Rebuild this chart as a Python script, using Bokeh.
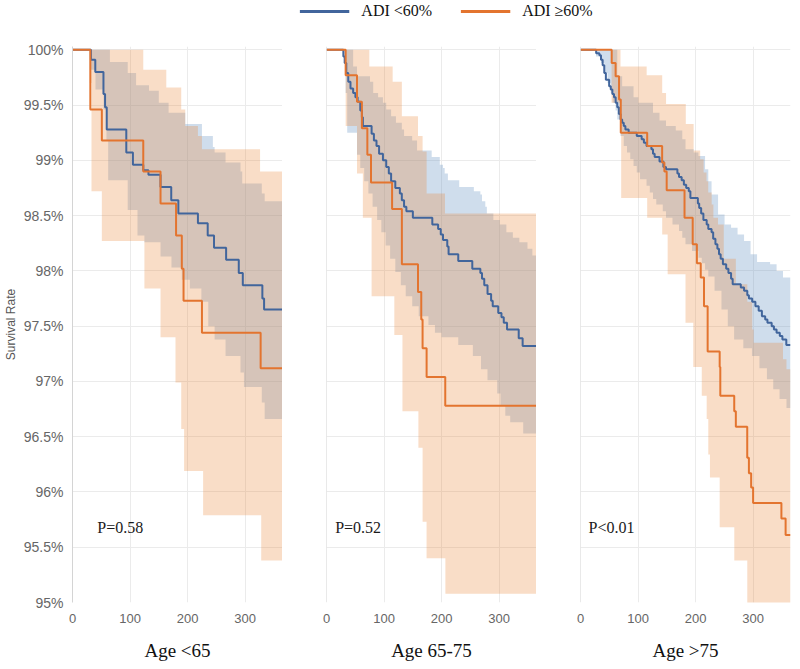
import numpy as np
from bokeh.plotting import figure
from bokeh.models import Range1d, FixedTicker, Span, Legend, LegendItem
from bokeh.layouts import column, row
from bokeh.core.properties import value
from bokeh.embed import file_html
from bokeh.resources import INLINE

# ---------------- data ----------------
X_MAX = 365
x_ticks = [0, 100, 200, 300]
y_ticks = [95, 95.5, 96, 96.5, 97, 97.5, 98, 98.5, 99, 99.5, 100]
y_tick_labels = ["95%", "95.5%", "96%", "96.5%", "97%", "97.5%", "98%", "98.5%", "99%", "99.5%", "100%"]

series_names = ["ADI <60%", "ADI \u226560%"]
panel_titles = ["Age <65", "Age 65-75", "Age >75"]
p_labels = ["P=0.58", "P=0.52", "P<0.01"]
p_label_x = [43, 15, 14]
p_label_y = [95.68, 95.68, 95.68]

# ---- Panel 1 (Age <65) ----
p1_blue_t = [32, 39.6, 53.8, 56.6, 59.5, 93.5, 105, 123, 132, 153, 171.6, 184, 218, 235, 246, 267, 289, 296, 330, 333]
p1_blue_s = [99.91, 99.80, 99.60, 99.48, 99.28, 99.07, 98.96, 98.91, 98.87, 98.76, 98.64, 98.52, 98.43, 98.32, 98.21, 98.10, 97.98, 97.87, 97.75, 97.65]
p1_orng_t = [31, 51, 123, 153, 180, 190, 193, 225, 327]
p1_orng_s = [99.46, 99.18, 98.90, 98.61, 98.32, 98.02, 97.73, 97.44, 97.12]
p1_bup_t = [65, 96, 110.5, 133, 150, 167, 196, 225, 244, 247, 266, 292, 295, 329, 334]
p1_bup_s = [99.89, 99.79, 99.68, 99.63, 99.52, 99.43, 99.33, 99.22, 99.12, 99.07, 98.98, 98.90, 98.79, 98.70, 98.63]
p1_blo_t = [30, 40, 54, 59, 62, 96, 113, 125, 153, 172, 190, 204, 224, 236, 247, 266, 292, 298, 329, 334]
p1_blo_s = [99.82, 99.64, 99.46, 99.18, 98.82, 98.55, 98.32, 98.26, 98.13, 98.03, 97.92, 97.84, 97.72, 97.50, 97.38, 97.23, 97.08, 96.95, 96.81, 96.66]
p1_oup_t = [123, 163, 189, 196, 218, 225, 326]
p1_oup_s = [99.82, 99.66, 99.46, 99.31, 99.22, 99.10, 98.90]
p1_olo_t = [30, 33, 51, 125, 153, 179, 189, 194, 227, 328]
p1_olo_s = [99.70, 98.72, 98.27, 97.84, 97.40, 96.99, 96.57, 96.19, 95.79, 95.38]

# ---- Panel 2 (Age 65-75) ----
p2_blue_t = [29.3, 31.6, 34.4, 37.8, 41.7, 46.3, 50.2, 54.1, 58.7, 61.5,
             63.2, 78.4, 82.4, 86.9, 91.4, 98.1, 103.8, 108.3, 112.3, 119.6,
             127.5, 130.9, 134.8, 138.8, 150.1, 183.9, 194, 198.6, 202.5, 209.9,
             212.2, 229, 253.4, 267.4, 270.3, 274.2, 279.9, 286.1, 288.9, 298.5,
             304.1, 308.1, 313.8, 334.1, 340.9]
p2_blue_s = [99.94, 99.88, 99.79, 99.71, 99.65, 99.61, 99.57, 99.53, 99.45, 99.39,
             99.31, 99.24, 99.18, 99.13, 99.06, 99.00, 98.94, 98.88, 98.81, 98.75,
             98.70, 98.64, 98.58, 98.54, 98.48, 98.42, 98.38, 98.33, 98.28, 98.22,
             98.15, 98.09, 98.02, 97.98, 97.93, 97.87, 97.79, 97.73, 97.68, 97.62,
             97.58, 97.53, 97.47, 97.39, 97.32]
p2_orng_t = [33.3, 53, 61.5, 71, 77.3, 114, 131, 159, 164.7, 167, 174, 206.4]
p2_orng_s = [99.77, 99.53, 99.29, 99.05, 98.80, 98.56, 98.06, 97.81, 97.56, 97.30, 97.04, 96.78]
p2_bup_t = [46.3, 53, 75.6, 81.2, 89.7, 98.1, 103.8, 112.3, 120.7, 130.9,
            134.8, 148.9, 157.4, 182.8, 196.9, 202.5, 205.4, 211, 230.7, 256.1,
            267.4, 270.3, 276, 278.7, 290, 301.3, 312.6, 323.9, 335.2, 349.3, 357.8]
p2_bup_s = [99.85, 99.76, 99.71, 99.61, 99.57, 99.52, 99.46, 99.40, 99.34, 99.28,
            99.22, 99.18, 99.09, 99.03, 98.96, 98.93, 98.88, 98.82, 98.76, 98.72,
            98.69, 98.63, 98.58, 98.52, 98.46, 98.42, 98.35, 98.30, 98.26, 98.20, 98.14]
p2_blo_t = [30.5, 33.3, 36, 53, 58.7, 65.5, 72.8, 80.1, 88, 95.3,
            102.7, 110.6, 119.6, 129.2, 137.7, 149, 160.3, 177.2, 188.5, 199.8,
            229, 254.4, 268.5, 279.8, 296.7, 302.4, 310.8, 319.3, 341.9]
p2_blo_s = [99.88, 99.61, 99.25, 99.05, 98.93, 98.81, 98.70, 98.58, 98.46, 98.35,
            98.23, 98.11, 97.99, 97.87, 97.77, 97.68, 97.59, 97.51, 97.44, 97.40,
            97.33, 97.23, 97.11, 97.01, 96.89, 96.78, 96.69, 96.63, 96.53]
p2_oup_t = [74.4, 115, 131, 159, 167, 174, 206]
p2_oup_s = [99.85, 99.71, 99.40, 99.22, 99.08, 98.70, 98.52]
p2_olo_t = [33.3, 53, 63.2, 78.4, 117.9, 132, 159.7, 167, 173.9, 206.6]
p2_olo_s = [99.31, 98.88, 98.48, 97.77, 97.42, 96.73, 96.40, 95.73, 95.40, 95.08]

# ---- Panel 3 (Age >75) ----
p3_blue_t = [27.2, 32.8, 35.6, 38.5, 41.3, 44.1, 49.8, 52.6, 55.4, 58.2,
             61.1, 63.9, 66.7, 69.6, 72.4, 75.2, 78.0, 83.7, 97.8, 106.3,
             110.2, 114.8, 123.2, 126.0, 128.9, 137.3, 144.1, 148.6, 168.4, 171.2,
             175.8, 179.7, 183.7, 188.2, 191.0, 204.0, 206.3, 209.7, 213.6, 219.3,
             222.1, 227.8, 230.6, 234.5, 237.9, 240.7, 243.6, 247.5, 253.2, 257.1,
             261.7, 264.5, 278.6, 284.3, 289.9, 292.7, 298.4, 304.0, 309.7, 315.3,
             321.0, 324.9, 332.3, 336.2, 340.8, 346.4, 350.9, 357.7]
p3_blue_s = [99.97, 99.95, 99.91, 99.86, 99.79, 99.73, 99.67, 99.64, 99.60, 99.57,
             99.52, 99.48, 99.42, 99.37, 99.34, 99.31, 99.28, 99.25, 99.22, 99.19,
             99.16, 99.13, 99.10, 99.06, 99.03, 98.99, 98.94, 98.92, 98.88, 98.85,
             98.82, 98.78, 98.75, 98.72, 98.66, 98.61, 98.57, 98.52, 98.46, 98.42,
             98.38, 98.35, 98.29, 98.24, 98.20, 98.15, 98.11, 98.06, 98.02, 97.98,
             97.93, 97.88, 97.85, 97.82, 97.78, 97.75, 97.72, 97.68, 97.64, 97.59,
             97.56, 97.53, 97.50, 97.47, 97.44, 97.41, 97.38, 97.33]
p3_orng_t = [54.2, 61, 67, 70, 115.9, 141.9, 145.8, 149.8, 180.8, 195, 202.3, 209,
             214.7, 221, 241.9, 243, 267.2, 270, 289.8, 292.7, 296.6, 300, 349.2, 356.5]
p3_orng_s = [99.88, 99.76, 99.55, 99.25, 99.13, 98.98, 98.90, 98.73, 98.48, 98.24, 98.07, 97.94,
             97.68, 97.27, 97.13, 96.87, 96.73, 96.59, 96.31, 96.17, 96.04, 95.90, 95.76, 95.61]
p3_bup_t = [63.9, 72.4, 92.2, 100.6, 126, 137.3, 148.6, 165.6, 176.9, 182.5,
            196.7, 205, 216.5, 222.1, 227.8, 239.1, 250.4, 261.7, 273, 284.3,
            295.6, 306.9, 329.5, 340.8, 352]
p3_bup_s = [99.76, 99.67, 99.57, 99.52, 99.43, 99.36, 99.31, 99.27, 99.19, 99.10,
            99.07, 99.04, 98.92, 98.81, 98.69, 98.51, 98.42, 98.39, 98.33, 98.27,
            98.15, 98.08, 98.06, 98.00, 97.94]
p3_blo_t = [27, 35.6, 41.3, 47, 52.6, 56, 61, 63.9, 69.5, 75.2,
            80.8, 86.5, 92.2, 97.8, 103.5, 114.8, 120.4, 126, 131.7, 143,
            148.6, 159.9, 171.2, 176.9, 182.5, 193.8, 205.1, 210.8, 216.5, 222.1,
            233, 245, 256, 267, 283, 298, 311, 324, 335, 346, 358]
p3_blo_s = [99.94, 99.88, 99.79, 99.70, 99.61, 99.52, 99.45, 99.37, 99.22, 99.13,
            99.07, 99.01, 98.95, 98.89, 98.83, 98.77, 98.71, 98.65, 98.60, 98.54,
            98.48, 98.42, 98.36, 98.30, 98.24, 98.18, 98.12, 98.07, 98.01, 97.95,
            97.82, 97.65, 97.50, 97.38, 97.30, 97.23, 97.12, 97.02, 96.93, 96.84, 96.76]
p3_oup_t = [69.5, 115, 142, 148.7, 183, 196.6, 208, 214, 219, 222, 228, 231, 239, 249, 270, 290, 298.5, 301, 352, 358]
p3_oup_s = [99.85, 99.77, 99.61, 99.51, 99.33, 99.09, 99.01, 98.89, 98.81, 98.71, 98.60, 98.48, 98.42, 98.11, 97.88, 97.72, 97.47, 97.35, 97.20, 97.11]
p3_olo_t = [54, 70.7, 115.9, 142, 151.5, 182.5, 196, 210.8, 219.3, 222.1, 225, 241.9, 267.3, 289.9]
p3_olo_s = [99.52, 98.66, 98.48, 98.33, 97.97, 97.53, 97.13, 96.87, 96.66, 96.34, 96.13, 95.68, 95.38, 94.90]

panels = [
    dict(blue=(p1_blue_t, p1_blue_s), orng=(p1_orng_t, p1_orng_s),
         bup=(p1_bup_t, p1_bup_s), blo=(p1_blo_t, p1_blo_s),
         oup=(p1_oup_t, p1_oup_s), olo=(p1_olo_t, p1_olo_s)),
    dict(blue=(p2_blue_t, p2_blue_s), orng=(p2_orng_t, p2_orng_s),
         bup=(p2_bup_t, p2_bup_s), blo=(p2_blo_t, p2_blo_s),
         oup=(p2_oup_t, p2_oup_s), olo=(p2_olo_t, p2_olo_s)),
    dict(blue=(p3_blue_t, p3_blue_s), orng=(p3_orng_t, p3_orng_s),
         bup=(p3_bup_t, p3_bup_s), blo=(p3_blo_t, p3_blo_s),
         oup=(p3_oup_t, p3_oup_s), olo=(p3_olo_t, p3_olo_s)),
]

# ---------------- styling ----------------
BLUE = "#41659c"
ORANGE = "#e3742f"
BLUE_FILL = "#6994c3"
ORANGE_FILL = "#e7832f"
GRID = "#ebebeb"
TICK_FONT = "Liberation Sans"
SERIF = "Liberation Serif"


def step_xy(ts, vs):
    xs = [0.0] + list(ts) + [X_MAX]
    ys = [100.0] + list(vs) + [vs[-1]]
    return xs, ys


def step_eval(ts, vs, grid):
    ts = np.asarray(ts, float)
    vs = np.asarray(vs, float)
    idx = np.searchsorted(ts, grid, side="right") - 1
    return np.where(idx >= 0, vs[np.clip(idx, 0, None)], 100.0)


def band(lo, up):
    grid = np.array(sorted(set([0.0, float(X_MAX)] + list(lo[0]) + list(up[0]))))
    return grid, step_eval(*lo, grid), step_eval(*up, grid)


figs = []
for i, pdat in enumerate(panels):
    first = (i == 0)
    f = figure(frame_width=210, frame_height=556,
               x_range=Range1d(0, X_MAX), y_range=Range1d(95, 100.03),
               toolbar_location=None, output_backend="svg",
               y_axis_location="left" if first else None,
               min_border_top=24, min_border_right=(2 if i == 2 else 0),
               min_border_left=(52 if first else 44), min_border_bottom=10)
    f.outline_line_color = None
    f.background_fill_color = "white"

    f.xgrid.ticker = FixedTicker(ticks=x_ticks)
    f.ygrid.ticker = FixedTicker(ticks=y_ticks)
    f.xgrid.grid_line_color = GRID
    f.ygrid.grid_line_color = GRID

    xa = f.xaxis[0]
    xa.ticker = FixedTicker(ticks=x_ticks)
    xa.axis_line_color = None
    xa.major_tick_line_color = None
    xa.minor_tick_line_color = None
    xa.major_label_text_font = TICK_FONT
    xa.major_label_text_font_size = "13px"
    xa.major_label_text_color = "#666666"
    xa.major_label_standoff = 5
    xa.axis_label = panel_titles[i]
    xa.axis_label_text_font = SERIF
    xa.axis_label_text_font_size = "19px"
    xa.axis_label_text_font_style = "normal"
    xa.axis_label_text_color = "#111111"
    xa.axis_label_standoff = 14

    if first:
        ya = f.yaxis[0]
        ya.ticker = FixedTicker(ticks=y_ticks)
        ya.major_label_overrides = {t: l for t, l in zip(y_ticks, y_tick_labels)}
        ya.axis_line_color = "#d4d4d4"
        ya.major_tick_line_color = None
        ya.minor_tick_line_color = None
        ya.major_label_text_font = TICK_FONT
        ya.major_label_text_font_size = "14px"
        ya.major_label_text_color = "#666666"
        ya.major_label_standoff = 3
        ya.axis_label = "Survival Rate"
        ya.axis_label_text_font = TICK_FONT
        ya.axis_label_text_font_size = "12px"
        ya.axis_label_text_font_style = "normal"
        ya.axis_label_text_color = "#555555"
        ya.axis_label_standoff = 3
    else:
        f.add_layout(Span(location=0, dimension="height", line_color="#d4d4d4", line_width=1))

    gx, lo, up = band(pdat["blo"], pdat["bup"])
    f.varea_step(x=gx, y1=lo, y2=up, step_mode="after",
                 fill_color=BLUE_FILL, fill_alpha=0.32)
    gx, lo, up = band(pdat["olo"], pdat["oup"])
    f.varea_step(x=gx, y1=lo, y2=up, step_mode="after",
                 fill_color=ORANGE_FILL, fill_alpha=0.27)

    bx, by = step_xy(*pdat["blue"])
    f.step(x=bx, y=by, mode="after", line_color=BLUE, line_width=2)
    ox, oy = step_xy(*pdat["orng"])
    f.step(x=ox, y=oy, mode="after", line_color=ORANGE, line_width=2)

    f.text(x=[p_label_x[i]], y=[p_label_y[i]], text=[p_labels[i]],
           text_font=value(SERIF), text_font_size="16px", text_color="#1a1a1a",
           text_baseline="middle", text_align="left")
    figs.append(f)

# ---------------- legend strip ----------------
lf = figure(width=780, height=22, toolbar_location=None, output_backend="svg",
            x_range=Range1d(0, 1), y_range=Range1d(0, 1),
            min_border_left=112, min_border_right=0, min_border_top=0, min_border_bottom=0,
            x_axis_location=None, y_axis_location=None)
lf.outline_line_color = None
lf.xgrid.visible = False
lf.ygrid.visible = False
# legend proxies: NaN data, so nothing is drawn in the strip itself
r_b = lf.line(x=[0, 1], y=[np.nan, np.nan], line_color=BLUE, line_width=3)
r_o = lf.line(x=[0, 1], y=[np.nan, np.nan], line_color=ORANGE, line_width=3)
leg = Legend(items=[LegendItem(label=series_names[0], renderers=[r_b]),
                    LegendItem(label=series_names[1], renderers=[r_o])],
             location="center", orientation="horizontal",
             glyph_width=50, glyph_height=16, label_height=16,
             label_standoff=12, spacing=28, padding=0, margin=0,
             border_line_color=None, background_fill_alpha=0,
             label_text_font=SERIF, label_text_font_size="16px",
             label_text_color="#111111")
lf.add_layout(leg)

layout = column(lf, row(*figs, spacing=0), spacing=0)

with open("out.html", "w") as fh:
    fh.write(file_html(layout, INLINE))
